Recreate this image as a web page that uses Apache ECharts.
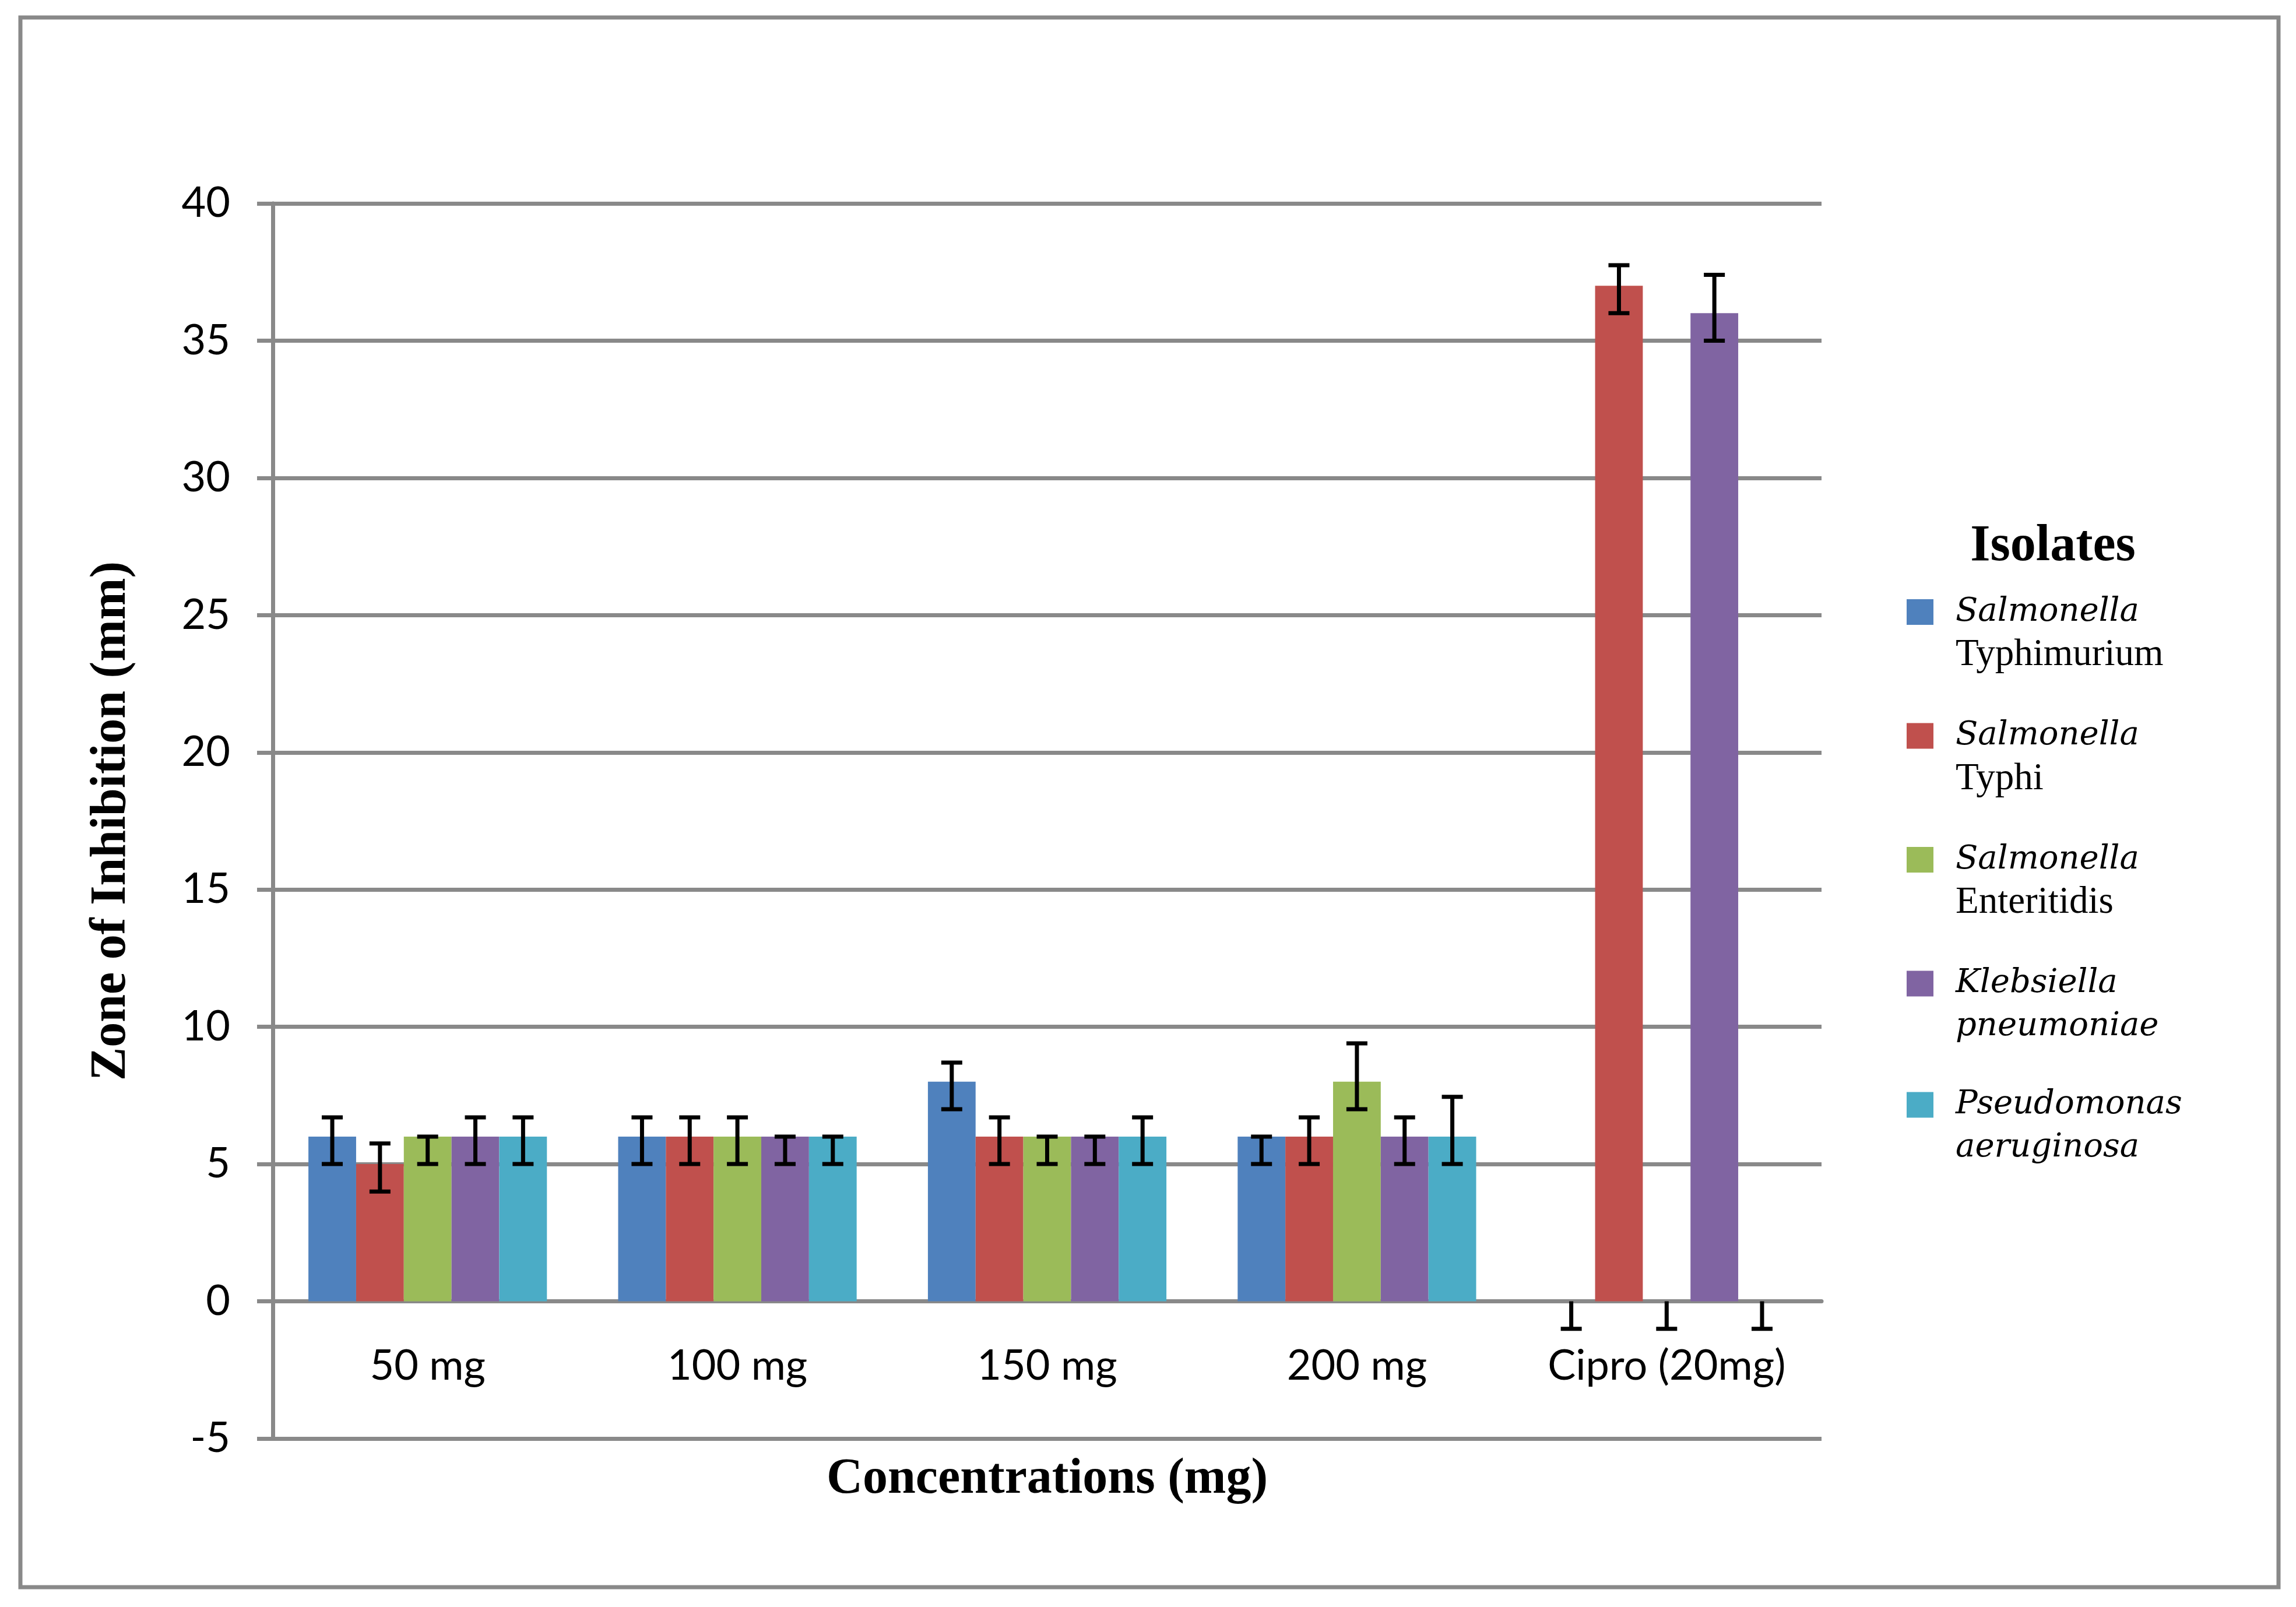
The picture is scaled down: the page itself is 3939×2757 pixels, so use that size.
<!DOCTYPE html>
<html>
<head>
<meta charset="utf-8">
<script src="https://cdn.jsdelivr.net/npm/echarts@6/dist/echarts.min.js"></script>
<style>
  html, body { margin: 0; padding: 0; background: #ffffff; }
  #chart { width: 3939px; height: 2757px; }
</style>
</head>
<body>
<div id="chart"></div>
<script>
// ---- data ----
const categories = ['50 mg', '100 mg', '150 mg', '200 mg', 'Cipro (20mg)'];
const seriesNames = ['Salmonella Typhimurium', 'Salmonella Typhi', 'Salmonella Enteritidis', 'Klebsiella pneumoniae', 'Pseudomonas aeruginosa'];
const typhimurium = [6, 6, 8, 6, 0];
const typhi       = [5, 6, 6, 6, 37];
const enteritidis = [6, 6, 6, 8, 0];
const klebsiella  = [6, 6, 6, 6, 36];
const pseudomonas = [6, 6, 6, 6, 0];
// error bar ends (low / high); null high = minus-only error bar
const typhimuriumLow  = [5, 5, 7, 5, -1];
const typhimuriumHigh = [6.7, 6.7, 8.7, 6, null];
const typhiLow        = [4, 5, 5, 5, 36];
const typhiHigh       = [5.75, 6.7, 6.7, 6.7, 37.75];
const enteritidisLow  = [5, 5, 5, 7, -1];
const enteritidisHigh = [6, 6.7, 6, 9.4, null];
const klebsiellaLow   = [5, 5, 5, 5, 35];
const klebsiellaHigh  = [6.7, 6, 6, 6.7, 37.4];
const pseudomonasLow  = [5, 5, 5, 5, -1];
const pseudomonasHigh = [6.7, 6, 6.7, 7.45, null];
const yTicks = { min: -5, max: 40, interval: 5 };

const values = [typhimurium, typhi, enteritidis, klebsiella, pseudomonas];
const lows = [typhimuriumLow, typhiLow, enteritidisLow, klebsiellaLow, pseudomonasLow];
const highs = [typhimuriumHigh, typhiHigh, enteritidisHigh, klebsiellaHigh, pseudomonasHigh];
const colors = ['#4F81BD', '#C0504D', '#9BBB59', '#8064A2', '#4BACC6'];

const GRID = '#898989';
const SERIF = '"Liberation Serif", "Times New Roman", serif';
const ITALIC = '"DejaVu Serif", "Liberation Serif", serif';
const SANS = 'Lato, "Open Sans", sans-serif';
const CAT_GAP = 0.23;
const GRID_TOP = 349, GRID_BOTTOM = 289, H = 2757;
const plotH = H - GRID_TOP - GRID_BOTTOM;
// move the category axis up to the value-axis zero line
const zeroOffset = -plotH * (0 - yTicks.min) / (yTicks.max - yTicks.min);

const errData = [];
for (let s = 0; s < values.length; s++) {
  for (let c = 0; c < categories.length; c++) {
    const hi = highs[s][c];
    errData.push([c, lows[s][c], hi == null ? values[s][c] : hi, s, hi == null ? 0 : 1]);
  }
}

const legendText = {
  'Salmonella Typhimurium': '{s| }\n{it|Salmonella}\n{rm|Typhimurium}',
  'Salmonella Typhi': '{s| }\n{it|Salmonella}\n{rm|Typhi}',
  'Salmonella Enteritidis': '{s| }\n{it|Salmonella}\n{rm|Enteritidis}',
  'Klebsiella pneumoniae': '{s| }\n{it|Klebsiella}\n{it|pneumoniae}',
  'Pseudomonas aeruginosa': '{s| }\n{it|Pseudomonas}\n{it|aeruginosa}'
};

const chart = echarts.init(document.getElementById('chart'), null, { renderer: 'canvas', devicePixelRatio: 1 });

const series = values.map((v, i) => ({
  name: seriesNames[i],
  type: 'bar',
  data: v,
  barGap: '0%',
  barCategoryGap: (CAT_GAP * 100) + '%',
  itemStyle: { color: colors[i] },
  z: 2
}));

series.push({
  type: 'custom',
  name: 'err',
  data: errData,
  encode: { x: 0, y: [1, 2] },
  z: 5,
  silent: true,
  renderItem: function (params, api) {
    const c = api.value(0), lo = api.value(1), hi = api.value(2), s = api.value(3), top = api.value(4);
    const band = api.size([1, 0])[0];
    const bw = band * (1 - CAT_GAP) / values.length;
    const cx = api.coord([c, 0])[0] + (s - (values.length - 1) / 2) * bw;
    const yl = api.coord([c, lo])[1];
    const yh = api.coord([c, hi])[1];
    const hw = 18;
    const st = { stroke: '#000', lineWidth: 7 };
    const children = [
      { type: 'line', shape: { x1: cx, y1: yh, x2: cx, y2: yl }, style: st },
      { type: 'line', shape: { x1: cx - hw, y1: yl, x2: cx + hw, y2: yl }, style: st }
    ];
    if (top) children.push({ type: 'line', shape: { x1: cx - hw, y1: yh, x2: cx + hw, y2: yh }, style: st });
    return { type: 'group', children: children };
  }
});

const option = {
  backgroundColor: '#ffffff',
  animation: false,
  title: {
    text: 'Isolates',
    left: 3522,
    top: 894,
    padding: 0,
    textAlign: 'center',
    textStyle: { fontFamily: SERIF, fontWeight: 'bold', fontSize: 88, color: '#000' }
  },
  legend: {
    data: seriesNames,
    orient: 'vertical',
    left: 3271,
    top: 944,
    padding: 0,
    itemGap: 0,
    itemWidth: 46,
    itemHeight: 44,
    icon: 'rect',
    selectedMode: false,
    formatter: function (name) { return legendText[name]; },
    textStyle: {
      color: '#000',
      rich: {
        s: { fontFamily: SERIF, fontSize: 64, lineHeight: 74 },
        it: { fontFamily: ITALIC, fontStyle: 'italic', fontSize: 56, lineHeight: 74, color: '#000', padding: [0, 0, 0, 33] },
        rm: { fontFamily: SERIF, fontSize: 65, lineHeight: 74, color: '#000', padding: [0, 0, 0, 33] }
      }
    }
  },
  grid: { left: 468, right: 814, top: GRID_TOP, bottom: GRID_BOTTOM, containLabel: false, outerBoundsMode: 'none' },
  xAxis: {
    type: 'category',
    data: categories,
    offset: zeroOffset,
    name: 'Concentrations (mg)',
    nameLocation: 'middle',
    nameGap: 263,
    nameTextStyle: { fontFamily: SERIF, fontWeight: 'bold', fontSize: 86, color: '#000' },
    axisLine: { show: true, onZero: false, lineStyle: { color: GRID, width: 7 } },
    axisTick: { show: false },
    axisLabel: { fontFamily: SANS, fontSize: 72, color: '#000', margin: 75 },
    splitLine: { show: false }
  },
  yAxis: {
    type: 'value',
    min: yTicks.min,
    max: yTicks.max,
    interval: yTicks.interval,
    name: 'Zone of Inhibition (mm)',
    nameLocation: 'middle',
    nameRotate: 90,
    nameGap: 233,
    nameTextStyle: { fontFamily: SERIF, fontWeight: 'bold', fontSize: 86, color: '#000' },
    axisLine: { show: true, onZero: false, lineStyle: { color: GRID, width: 7 } },
    axisTick: { show: true, inside: false, length: 27, lineStyle: { color: GRID, width: 7 } },
    axisLabel: { fontFamily: SANS, fontSize: 72, color: '#000', margin: 73 },
    splitLine: { show: true, lineStyle: { color: GRID, width: 7 } }
  },
  graphic: [{
    type: 'rect',
    shape: { x: 35, y: 30, width: 3874, height: 2693 },
    style: { fill: 'none', stroke: GRID, lineWidth: 7 },
    silent: true,
    z: -10
  }],
  series: series
};

chart.setOption(option);
</script>
</body>
</html>
